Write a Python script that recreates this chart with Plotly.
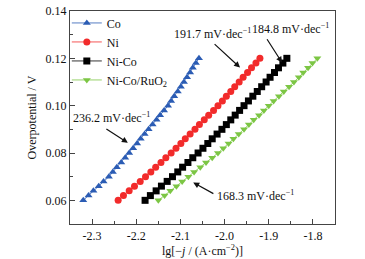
import plotly.graph_objects as go

# Overpotential (V) values common to all series
eta = [0.060, 0.062, 0.064, 0.066, 0.068, 0.070, 0.072, 0.074, 0.076, 0.078,
       0.080, 0.082, 0.084, 0.086, 0.088, 0.090, 0.092, 0.094, 0.096, 0.098,
       0.100, 0.102, 0.104, 0.106, 0.108, 0.110, 0.112, 0.114, 0.116, 0.118,
       0.120]

co_lgj = [-2.320, -2.308, -2.297, -2.285, -2.274, -2.262, -2.253, -2.244, -2.234, -2.225,
          -2.216, -2.207, -2.198, -2.190, -2.181, -2.172, -2.163, -2.154, -2.146, -2.137,
          -2.128, -2.121, -2.114, -2.106, -2.099, -2.092, -2.085, -2.078, -2.072, -2.065,
          -2.058]

ni_lgj = [-2.241, -2.229, -2.216, -2.204, -2.191, -2.179, -2.167, -2.156, -2.144, -2.133,
          -2.121, -2.110, -2.099, -2.089, -2.078, -2.067, -2.057, -2.046, -2.036, -2.025,
          -2.015, -2.005, -1.996, -1.986, -1.977, -1.967, -1.958, -1.948, -1.939, -1.929,
          -1.920]

nico_lgj = [-2.180, -2.168, -2.155, -2.143, -2.130, -2.118, -2.106, -2.095, -2.083, -2.072,
            -2.060, -2.049, -2.038, -2.028, -2.017, -2.006, -1.996, -1.986, -1.976, -1.966,
            -1.956, -1.946, -1.936, -1.926, -1.916, -1.906, -1.897, -1.887, -1.878, -1.868,
            -1.859]

nicoru_lgj = [-2.150, -2.136, -2.123, -2.109, -2.096, -2.082, -2.069, -2.055, -2.042, -2.028,
              -2.015, -2.003, -1.991, -1.980, -1.968, -1.956, -1.945, -1.934, -1.922, -1.911,
              -1.900, -1.889, -1.877, -1.866, -1.854, -1.843, -1.832, -1.822, -1.811, -1.801,
              -1.790]

series_names = ["Co", "Ni", "Ni-Co", "Ni-Co/RuO<sub>2</sub>"]
series_x = [co_lgj, ni_lgj, nico_lgj, nicoru_lgj]
colors = ["#2b5cb4", "#f22b2b", "#000000", "#7cc644"]
symbols = ["triangle-up", "circle", "square", "triangle-down"]

x_tickvals = [-2.3, -2.2, -2.1, -2.0, -1.9, -1.8]
x_ticktext = ["-2.3", "-2.2", "-2.1", "-2.0", "-1.9", "-1.8"]
y_tickvals = [0.06, 0.08, 0.10, 0.12, 0.14]
y_ticktext = ["0.06", "0.08", "0.10", "0.12", "0.14"]

# Tafel slope labels: text, text position (x, y), arrow tail (x, y), arrow tip (x, y)
SUP = '<span style="font-size:8px">'
slope_labels = ["236.2 mV·dec<sup>" + SUP + "−1</span></sup>",
                "191.7 mV·dec<sup>" + SUP + "−1</span></sup>",
                "184.8 mV·dec<sup>" + SUP + "−1</span></sup>",
                "168.3 mV·dec<sup>" + SUP + "−1</span></sup>"]
label_pos = [(-2.257, 0.0948), (-2.028, 0.1304), (-1.850, 0.1325), (-1.931, 0.0621)]
arrow_tail = [(-2.271, 0.0906), (-2.026, 0.1266), (-1.906, 0.1287), (-2.022, 0.0625)]
arrow_tip = [(-2.219, 0.0843), (-1.965, 0.1161), (-1.870, 0.1182), (-2.071, 0.0675)]

FONT = "Liberation Serif, Times New Roman, serif"

fig = go.Figure()
for name, xs, c, s in zip(series_names, series_x, colors, symbols):
    fig.add_trace(go.Scatter(
        x=xs, y=eta, name=name, mode="lines+markers",
        line=dict(color=c, width=0.8),
        marker=dict(symbol=s, size=7, color=c, line=dict(width=0)),
    ))

for txt, (tx, ty) in zip(slope_labels, label_pos):
    fig.add_annotation(x=tx, y=ty, xref="x", yref="y", text=txt, showarrow=False,
                       font=dict(family=FONT, size=12, color="#111"))
for (ax_, ay_), (hx, hy) in zip(arrow_tail, arrow_tip):
    fig.add_annotation(x=hx, y=hy, ax=ax_, ay=ay_, xref="x", yref="y", axref="x", ayref="y",
                       text="", showarrow=True, arrowhead=2, arrowsize=1, arrowwidth=1.2,
                       arrowcolor="#111", standoff=0, startstandoff=0)

fig.update_layout(
    width=365, height=259,
    margin=dict(l=70, r=30, t=11, b=35, autoexpand=False),
    paper_bgcolor="white", plot_bgcolor="white",
    font=dict(family=FONT, size=12, color="#111"),
    showlegend=True,
    legend=dict(x=-0.012, y=1.012, xanchor="left", yanchor="top", bgcolor="rgba(0,0,0,0)",
                borderwidth=0, font=dict(family=FONT, size=12, color="#111"),
                itemwidth=30, tracegroupgap=0),
    xaxis=dict(range=[-2.35, -1.75], tickvals=x_tickvals, ticktext=x_ticktext,
               automargin=False,
               ticks="inside", ticklen=5, tickwidth=1, tickcolor="#444",
               showline=True, linecolor="#444", linewidth=1.3, mirror=True,
               showgrid=False, zeroline=False,
               minor=dict(tickmode="linear", tick0=-2.35, dtick=0.1, ticks="inside",
                          ticklen=3, tickcolor="#444", showgrid=False),
               title=dict(text="lg[−<i>j</i> / (A·cm<sup>−2</sup>)]", standoff=5,
                          font=dict(family=FONT, size=12))),
    yaxis=dict(range=[0.05, 0.14], tickvals=y_tickvals, ticktext=y_ticktext,
               automargin=False, ticklabeloverflow="allow",
               ticks="inside", ticklen=5, tickwidth=1, tickcolor="#444",
               showline=True, linecolor="#444", linewidth=1.3, mirror=True,
               showgrid=False, zeroline=False,
               minor=dict(tickmode="linear", tick0=0.05, dtick=0.02, ticks="inside",
                          ticklen=3, tickcolor="#444", showgrid=False),
               title=dict(text="Overpotential / V", standoff=6,
                          font=dict(family=FONT, size=12))),
)

# remove the default page margin so the figure fills the window exactly
fig.write_html("out.html", config={"displayModeBar": False},
               post_script="document.body.style.margin='0';")
